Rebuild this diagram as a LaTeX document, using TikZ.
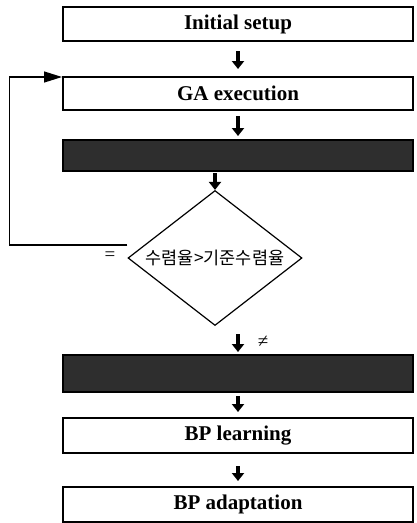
\documentclass[tikz,border=0pt]{standalone}
\usepackage{fontspec}
\setmainfont{Liberation Serif}
\newfontfamily\kr{Noto Sans CJK KR}
\usetikzlibrary{arrows.meta,calc,positioning,shapes.geometric}

\begin{document}
\begin{tikzpicture}[
  x=1pt, y=-1pt,
  box/.style={draw, line width=2pt, minimum width=350pt, inner sep=0pt, font=\bfseries\fontsize{21}{23}\selectfont},
  darkbox/.style={box, fill=black!82},
  cond/.style={draw, line width=1.2pt, diamond, aspect=1.29, minimum width=174pt, minimum height=135pt, inner sep=0pt, font=\kr\fontsize{17.5}{19}\selectfont},
  flow/.style={-{Triangle[length=8pt,width=12pt]}, line width=4pt},
  back/.style={-{Triangle[length=18pt,width=11pt]}, line width=1.3pt},
  tag/.style={inner sep=1pt, font=\fontsize{19}{20}\selectfont}
]
\useasboundingbox (0,0) rectangle (416,523);

\node[box, minimum height=34pt] (setup) at (238,24) {Initial setup};
\node[box, minimum height=33pt] (ga) at (238,93.5) {GA execution};
\node[darkbox, minimum height=31pt] (eval) at (238,155.5) {};
\node[cond] (check) at (215,258) {수렴율>기준수렴율};
\node[darkbox, minimum height=37pt] (train) at (238,373.5) {};
\node[box, minimum height=35pt] (learn) at (238,435.5) {BP learning};
\node[box, minimum height=35pt] (adapt) at (238,504.5) {BP adaptation};

% flow down
\draw[flow, shorten <=9pt, shorten >=7pt] (setup) -- (ga);
\draw[flow, shorten <=5pt, shorten >=3pt] (ga) -- (eval);
\draw[flow, shorten <=1pt] (eval.south -| check.north) -- (check.north);
\draw[flow, shorten <=8pt, shorten >=2pt] (check.south -| train.north) -- (train.north);
\draw[flow, shorten <=3pt, shorten >=5pt] (train) -- (learn);
\draw[flow, shorten <=12pt, shorten >=5pt] (learn) -- (adapt);

% loop back
\draw[back] ([yshift=13pt]check.west) -- ++(-118,0) |- ([yshift=-1pt]ga.north west);
\node[tag] (eqlab) at (110,256) {=};
\node[tag] (neqlab) at (263,342) {≠};
\end{tikzpicture}
\end{document}
